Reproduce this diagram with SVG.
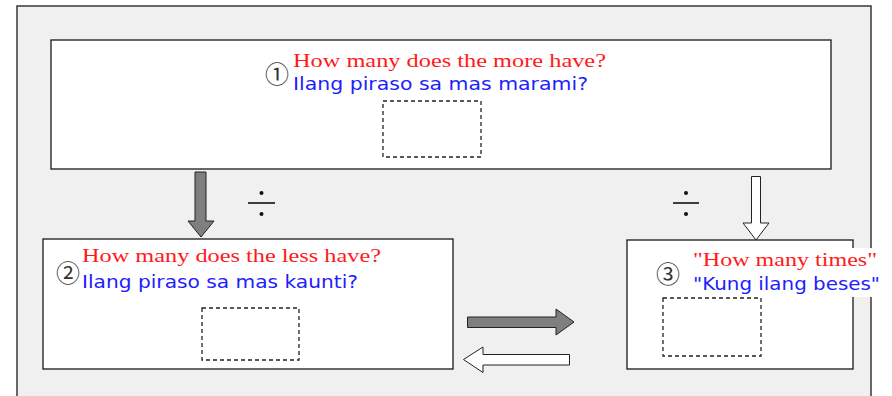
<svg xmlns="http://www.w3.org/2000/svg" width="892" height="396" viewBox="0 0 892 396">
<style>
.box{fill:#fff;stroke:#1a1a1a;stroke-width:1.3}
.dash{fill:none;stroke:#222;stroke-width:1.3;stroke-dasharray:4,3}
.red{font-family:"Liberation Serif","Times New Roman",serif;font-size:19px;fill:#ff1a1a}
.blue{font-family:"DejaVu Sans","Liberation Sans",sans-serif;font-size:17px;fill:#2020ff}
.num{font-family:"Noto Sans CJK JP","DejaVu Sans",sans-serif;font-size:24px;fill:#333;text-anchor:middle}
.garrow{fill:#7f7f7f;stroke:#222;stroke-width:1}
.warrow{fill:#fff;stroke:#222;stroke-width:1}
.div{stroke:#111;stroke-width:1.6}
</style>
<defs>
<clipPath id="c3"><rect x="690" y="248" width="192" height="47"/></clipPath>
</defs>
<rect x="0" y="0" width="892" height="396" fill="#fff"/>
<rect x="17" y="6" width="854" height="400" fill="#f0f0f0" stroke="#444" stroke-width="1.6"/>

<g id="node1">
<rect class="box" x="51" y="40" width="780" height="129"/>
<text class="num" x="277" y="83">①</text>
<text class="red" x="293" y="67" textLength="313" lengthAdjust="spacingAndGlyphs">How many does the more have?</text>
<text class="blue" x="293" y="90" textLength="295" lengthAdjust="spacingAndGlyphs">Ilang piraso sa mas marami?</text>
<rect class="dash" x="383" y="101" width="98" height="56"/>
</g>

<g id="node2">
<rect class="box" x="43" y="239" width="410" height="130"/>
<text class="num" x="68" y="282">②</text>
<text class="red" x="82" y="262" textLength="299" lengthAdjust="spacingAndGlyphs">How many does the less have?</text>
<text class="blue" x="82" y="288" textLength="276" lengthAdjust="spacingAndGlyphs">Ilang piraso sa mas kaunti?</text>
<rect class="dash" x="202" y="308" width="97" height="52"/>
</g>

<g id="node3">
<rect class="box" x="627" y="240" width="226" height="129"/>
<text class="num" x="668" y="283">③</text>
<rect x="690" y="248" width="192" height="49" fill="#fff"/>
<g clip-path="url(#c3)">
<text class="red" x="693" y="266" textLength="184" lengthAdjust="spacingAndGlyphs">"How many times"</text>
<text class="blue" x="693" y="290" textLength="187" lengthAdjust="spacingAndGlyphs">"Kung ilang beses"</text>
</g>
<rect class="dash" x="663" y="298" width="98" height="58"/>
</g>

<g id="connectors">
<polygon class="garrow" points="195,172 206,172 206,221 214,221 201,237 188,221 195,221"/>
<polygon class="warrow" points="751.5,176.5 760.5,176.5 760.5,223 769,223 756,240 743,223 751.5,223"/>
<polygon class="garrow" points="467.5,317 556,317 556,309 574,322 556,335 556,327.5 467.5,327.5"/>
<polygon class="warrow" points="569.5,354.5 483,354.5 483,347 463.5,359.5 483,372.5 483,365 569.5,365"/>
<g id="div1">
<line class="div" x1="248" y1="203" x2="275" y2="203"/>
<circle cx="261.5" cy="193" r="2" fill="#111"/>
<circle cx="261.5" cy="214" r="2" fill="#111"/>
</g>
<g id="div2">
<line class="div" x1="673" y1="203" x2="699" y2="203"/>
<circle cx="686" cy="193" r="2" fill="#111"/>
<circle cx="686" cy="214" r="2" fill="#111"/>
</g>
</g>
</svg>
